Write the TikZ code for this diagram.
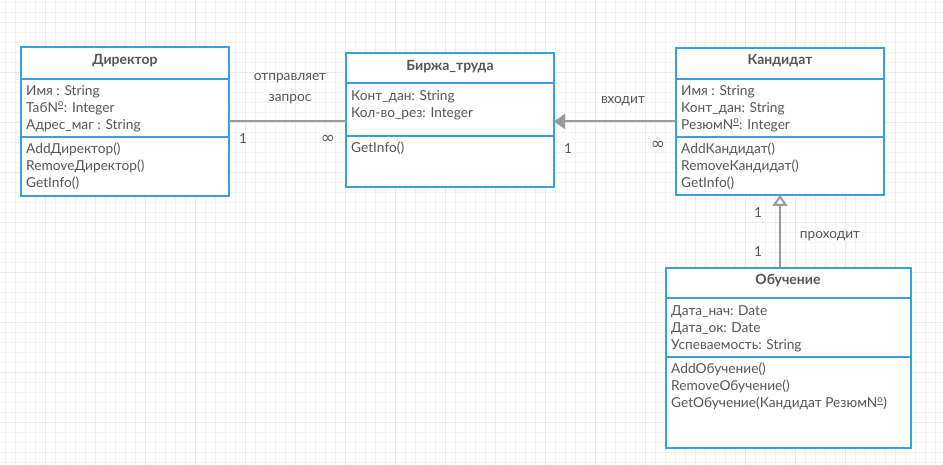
\documentclass[tikz,border=0pt]{standalone}
\usepackage{fontspec}
\setmainfont{Lato}
\newfontfamily\symfont{DejaVu Sans}
\usetikzlibrary{arrows.meta,calc}
\definecolor{boxblue}{HTML}{3A9FDD}
\definecolor{txt}{HTML}{555555}
\definecolor{conn}{HTML}{9A9A9A}
\definecolor{gridc}{HTML}{F3F3F3}
\definecolor{gridd}{HTML}{EAEAEA}
\tikzset{
  x=1pt,y=-1pt,
  part/.style={draw=boxblue,line width=2pt,fill=white,anchor=north west,inner sep=0pt,outer sep=0pt},
  title/.style={text=txt,font=\fontsize{14}{17}\selectfont\bfseries,inner sep=0pt},
  body/.style={text=txt,font=\fontsize{13.7}{17}\selectfont,align=left,anchor=north west,inner sep=0pt},
  lbl/.style={text=txt,font=\fontsize{13.7}{21}\selectfont,align=center,inner sep=0pt},
  inf/.style={text=txt,font=\symfont\fontsize{17}{17}\selectfont,inner sep=0pt},
  link/.style={draw=conn,line width=2pt},
}
\begin{document}
\begin{tikzpicture}
\useasboundingbox (0,0) rectangle (943,465);
\fill[white] (0,0) rectangle (943,465);
% grid
\foreach \gx in {5,15,...,935} {\draw[gridc,line width=0.7pt] (\gx,0) -- (\gx,465);}
\foreach \gy in {2,12,...,462} {\draw[gridc,line width=0.7pt] (0,\gy) -- (943,\gy);}
\foreach \gx in {45,95,...,935} {\draw[gridd,line width=0.7pt] (\gx,0) -- (\gx,465);}
\foreach \gy in {22,72,...,462} {\draw[gridd,line width=0.7pt] (0,\gy) -- (943,\gy);}

% Директор
\node[part,minimum width=208pt,minimum height=149pt] (dir) at (21,47) {};
\node[part,minimum width=208pt,minimum height=32pt] (dirh) at (21,47) {};
\node[part,minimum width=208pt,minimum height=58pt] (dira) at (21,79) {};
\node[title] (dirt) at (125,61) {Директор};
\node[body] (dirattr) at (26,85) {Имя : String\\ТабN\textsuperscript{\underline{o}}: Integer\\Адрес\_маг : String};
\node[body] (dirmeth) at (26,143) {AddДиректор()\\RemoveДиректор()\\GetInfo()};

% Биржа_труда
\node[part,minimum width=208pt,minimum height=134pt] (bir) at (346,53) {};
\node[part,minimum width=208pt,minimum height=30pt] (birh) at (346,53) {};
\node[part,minimum width=208pt,minimum height=53pt] (bira) at (346,83) {};
\node[title] (birt) at (450,67) {Биржа\_труда};
\node[body] (birattr) at (351,90) {Конт\_дан: String\\Кол-во\_рез: Integer};
\node[body] (birmeth) at (351,142) {GetInfo()};

% Кандидат
\node[part,minimum width=208pt,minimum height=147pt] (kan) at (676,48) {};
\node[part,minimum width=208pt,minimum height=31pt] (kanh) at (676,48) {};
\node[part,minimum width=208pt,minimum height=58pt] (kana) at (676,79) {};
\node[title] (kant) at (780,61) {Кандидат};
\node[body] (kanattr) at (681,85) {Имя : String\\Конт\_дан: String\\РезюмN\textsuperscript{\underline{o}}: Integer};
\node[body] (kanmeth) at (681,143) {AddКандидат()\\RemoveКандидат()\\GetInfo()};

% Обучение
\node[part,minimum width=245pt,minimum height=180pt] (obu) at (666,268) {};
\node[part,minimum width=245pt,minimum height=30pt] (obuh) at (666,268) {};
\node[part,minimum width=245pt,minimum height=59pt] (obua) at (666,298) {};
\node[title] (obut) at (788,281) {Обучение};
\node[body] (obuattr) at (671,305) {Дата\_нач: Date\\Дата\_ок: Date\\Успеваемость: String};
\node[body] (obumeth) at (671,363) {AddОбучение()\\RemoveОбучение()\\GetОбучение(Кандидат РезюмN\textsuperscript{\underline{o}})};

% connectors
\draw[link] (dir.east) -- (dir.east -| bir.west);
\draw[link,-{Triangle[length=11pt,width=15pt,fill=conn]}] (kan.west) -- (kan.west -| bir.east);
\draw[link,-{Triangle[open,length=11pt,width=15pt,fill=white]}] (kan.south |- obu.north) -- (kan.south);

% labels
\node[lbl] (l1) at (290,89) {отправляет\\запрос};
\node[lbl] (l1a) at (243,139) {1};
\node[inf] (l1b) at (328,139) {∞};
\node[lbl] (l2) at (623,101) {входит};
\node[lbl] (l2a) at (568,149) {1};
\node[inf] (l2b) at (658,145) {∞};
\node[lbl] (l3) at (830,236) {проходит};
\node[lbl] (l3a) at (758,213) {1};
\node[lbl] (l3b) at (758,252) {1};
\end{tikzpicture}
\end{document}
